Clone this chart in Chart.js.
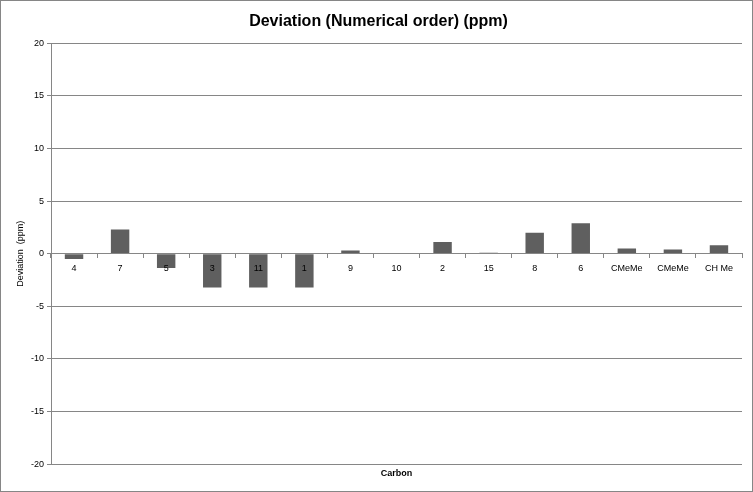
<!DOCTYPE html>
<html>
<head>
<meta charset="utf-8">
<script src="https://cdn.jsdelivr.net/npm/chart.js@4/dist/chart.umd.min.js"></script>
<style>
html,body{margin:0;padding:0;background:#fff;}
#wrap{width:753px;height:492px;position:relative;}
</style>
</head>
<body>
<div id="wrap"><canvas id="c" width="753" height="492"></canvas></div>
<script>
const categories = ["4","7","5","3","11","1","9","10","2","15","8","6","CMeMe","CMeMe","CH Me"];
const deviations = [-0.5, 2.3, -1.35, -3.2, -3.2, -3.2, 0.3, 0, 1.1, 0.1, 2.0, 2.9, 0.5, 0.4, 0.8];
const yTicks = [-20, -15, -10, -5, 0, 5, 10, 15, 20];

const FONT = "'Liberation Sans', Arial, sans-serif";
const GRID = "#868686";

const borderPlugin = {
  id: 'outerBorder',
  afterDraw(chart) {
    const ctx = chart.ctx;
    ctx.save();
    ctx.strokeStyle = GRID;
    ctx.lineWidth = 1;
    ctx.strokeRect(0.5, 0.5, chart.width - 1, chart.height - 1);
    ctx.restore();
  }
};

new Chart(document.getElementById('c'), {
  type: 'bar',
  data: {
    labels: categories,
    datasets: [{
      label: 'Deviation',
      data: deviations,
      backgroundColor: '#5f5f5f',
      borderWidth: 0,
      categoryPercentage: 1,
      barPercentage: 0.4,
      xAxisID: 'x',
      yAxisID: 'y'
    }]
  },
  options: {
    responsive: false,
    animation: false,
    devicePixelRatio: 1,
    layout: { padding: { left: 15, right: 11, top: 0, bottom: 13 } },
    plugins: {
      legend: { display: false },
      tooltip: { enabled: false },
      title: {
        display: true,
        text: 'Deviation (Numerical order) (ppm)',
        color: '#000',
        font: { family: FONT, size: 16, weight: 'bold' },
        padding: { top: 12, bottom: 12 }
      }
    },
    scales: {
      x: {
        position: { y: 0 },
        offset: true,
        grid: {
          display: true,
          drawOnChartArea: false,
          drawTicks: true,
          tickLength: 4,
          color: GRID,
          offset: true,
          z: 1
        },
        border: { display: true, color: GRID, z: 1 },
        ticks: {
          color: '#000',
          font: { family: FONT, size: 9 },
          padding: 5,
          maxRotation: 0,
          autoSkip: false,
          z: 1
        }
      },
      xTitle: {
        type: 'category',
        position: 'bottom',
        grid: { display: false, drawTicks: false },
        border: { display: false },
        ticks: { display: false },
        title: {
          display: true,
          text: 'Carbon',
          color: '#000',
          font: { family: FONT, size: 9, weight: 'bold' },
          padding: { top: 4, bottom: 0 }
        }
      },
      y: {
        min: -20,
        max: 20,
        afterBuildTicks(scale) { scale.ticks = yTicks.map(v => ({ value: v })); },
        afterFit(scale) { scale.width = 36; },
        grid: {
          color: GRID,
          drawTicks: true,
          tickLength: 4
        },
        border: { display: true, color: GRID },
        title: {
          display: true,
          text: 'Deviation  (ppm)',
          color: '#000',
          font: { family: FONT, size: 9 },
          padding: { top: 0, bottom: 0 }
        },
        ticks: {
          color: '#000',
          font: { family: FONT, size: 9 },
          padding: 3
        }
      }
    }
  },
  plugins: [borderPlugin]
});
</script>
</body>
</html>
